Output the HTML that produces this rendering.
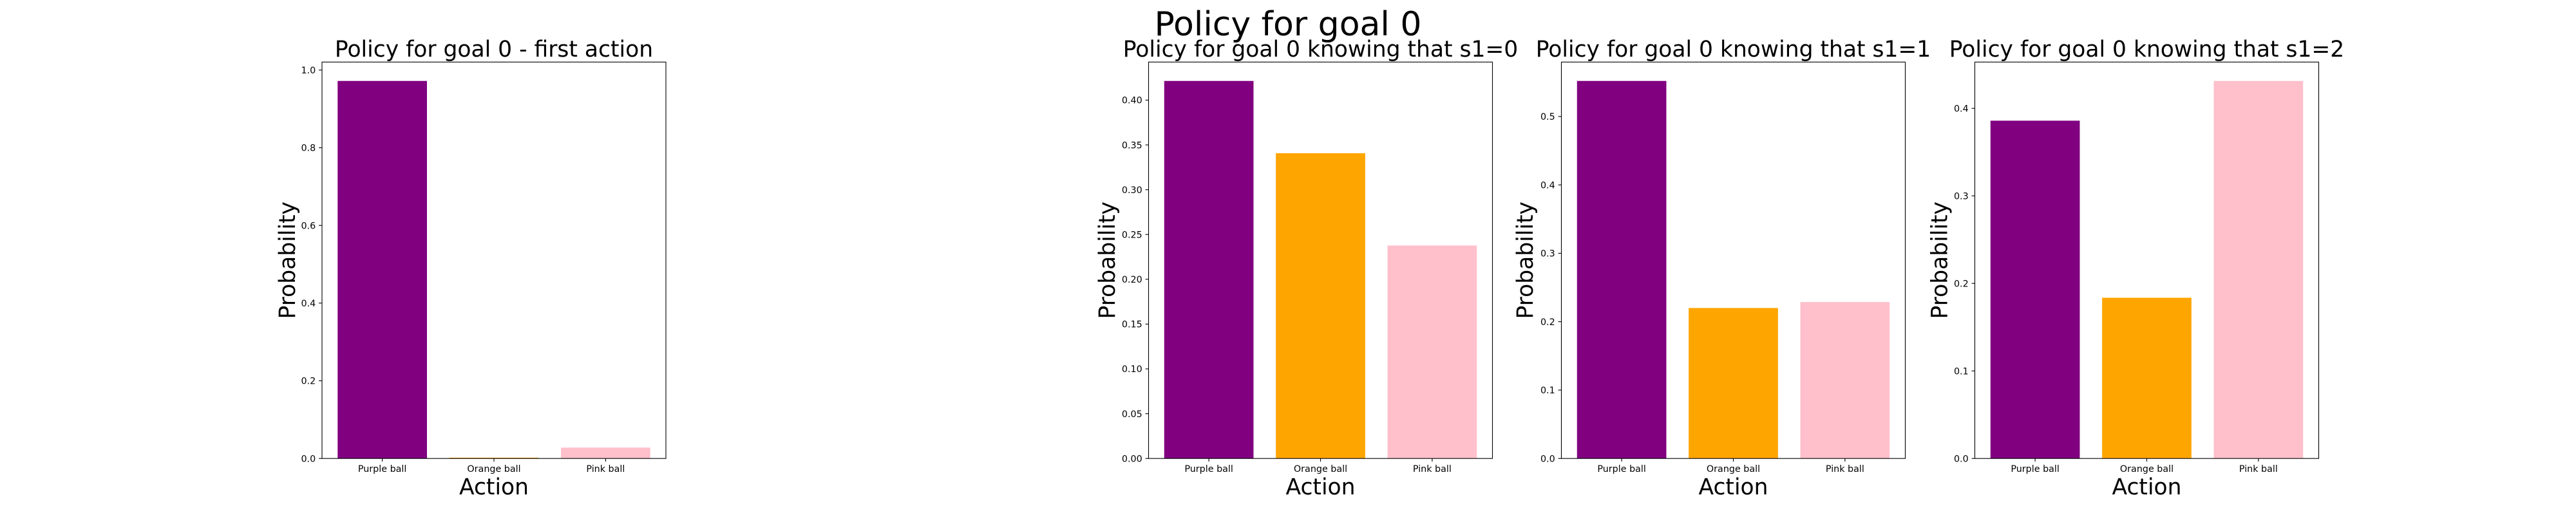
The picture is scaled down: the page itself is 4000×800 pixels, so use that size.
<!DOCTYPE html>
<html><head><meta charset="utf-8"><style>
html,body{margin:0;padding:0;background:#fff}
svg{display:block;font-family:"DejaVu Sans","Liberation Sans",sans-serif}
</style></head><body>
<svg id="fig" width="4000" height="800" viewBox="0 0 4000 800">
<text x="2000" y="55" font-size="52" text-anchor="middle">Policy for goal 0</text>
</svg>
<script>
const categories = ["Purple ball", "Orange ball", "Pink ball"];
const colors = ["purple", "orange", "pink"];
const titles = ["Policy for goal 0 - first action", "Policy for goal 0 knowing that s1=0", "Policy for goal 0 knowing that s1=1", "Policy for goal 0 knowing that s1=2"];
const valuesFirst = [0.972, 0.002, 0.028];
const valuesS0 = [0.4214, 0.3407, 0.2377];
const valuesS1 = [0.552, 0.220, 0.2287];
const valuesS2 = [0.3859, 0.1836, 0.4313];
const ticksFirst = [0, 0.2, 0.4, 0.6, 0.8, 1.0];
const ticksS0 = [0, 0.05, 0.10, 0.15, 0.20, 0.25, 0.30, 0.35, 0.40];
const ticksS1 = [0, 0.1, 0.2, 0.3, 0.4, 0.5];
const ticksS2 = [0, 0.1, 0.2, 0.3, 0.4];
const tickDigits = [1, 2, 1, 1];

const svg = document.getElementById('fig');
const NS = 'http://www.w3.org/2000/svg';
function mk(tag, attrs, parent){const e=document.createElementNS(NS,tag);for(const k in attrs)e.setAttribute(k,attrs[k]);(parent||svg).appendChild(e);return e;}
const lefts = [500, 1783.5, 2424.5, 3066.5];
const W = 534, TOP = 96.4, BOT = 712.2, H = BOT - TOP;
const ylabelX = [447, 1720, 2369, 3012.5];
const allValues = [valuesFirst, valuesS0, valuesS1, valuesS2];
const allTicks = [ticksFirst, ticksS0, ticksS1, ticksS2];
const TF = 14.3, BF = 34.5;

for (let p = 0; p < 4; p++) {
  const vals = allValues[p], ticks = allTicks[p], L = lefts[p];
  const g = mk('g', {});
  
  
  const ymax = Math.max(...vals) * 1.05;
  const y = v => BOT - v / ymax * H;
  const x = v => L + (v + 0.54) / 3.08 * W;
  vals.forEach((v, i) => {
    const r = mk('rect', {x: x(i - 0.4), y: y(v), width: x(i + 0.4) - x(i - 0.4), height: BOT - y(v), fill: colors[i]}, g);
    
    
  });
  const fr = mk('rect', {x: L, y: TOP, width: W, height: H, fill: 'none', stroke: '#000', 'stroke-width': 1.1}, g);
  
  
  ticks.forEach(t => {
    mk('line', {x1: L - 4.9, x2: L, y1: y(t), y2: y(t), stroke: '#000', 'stroke-width': 1.1}, g);
    const tl = mk('text', {x: L - 9.8, y: y(t) + 5.2, 'font-size': TF, 'text-anchor': 'end'}, g);
    tl.textContent = t.toFixed(tickDigits[p]);
    
    
  });
  categories.forEach((c, i) => {
    mk('line', {x1: x(i), x2: x(i), y1: BOT, y2: BOT + 4.9, stroke: '#000', 'stroke-width': 1.1}, g);
    const tl = mk('text', {x: x(i), y: BOT + 21, 'font-size': TF, 'text-anchor': 'middle'}, g);
    tl.textContent = c;
    
    
  });
  const tt = mk('text', {x: L + W / 2, y: 88, 'font-size': BF, 'text-anchor': 'middle'}, g);
  tt.textContent = titles[p];
  
  
  const xl = mk('text', {x: L + W / 2, y: 768, 'font-size': BF, 'text-anchor': 'middle'}, g);
  xl.textContent = 'Action';
  
  
  const cy = (TOP + BOT) / 2;
  const yl = mk('text', {x: ylabelX[p], y: cy, 'font-size': BF, 'text-anchor': 'middle', 'dominant-baseline': 'central', transform: 'rotate(-90 ' + ylabelX[p] + ' ' + cy + ')'}, g);
  yl.textContent = 'Probability';
  
  
}
</script>
</body></html>
